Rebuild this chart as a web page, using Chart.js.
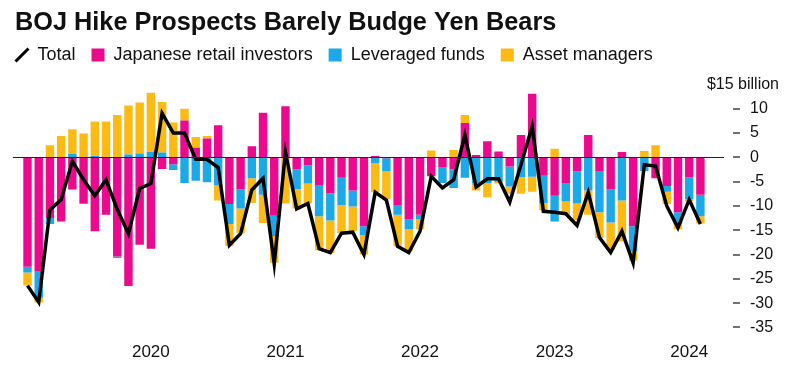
<!DOCTYPE html>
<html>
<head>
<meta charset="utf-8">
<script src="https://cdn.jsdelivr.net/npm/chart.js@4.4.0/dist/chart.umd.min.js"></script>
<style>
  html, body { margin: 0; padding: 0; background: #fff; }
  #wrap { width: 800px; height: 384px; }
</style>
</head>
<body>
<div id="wrap"><canvas id="chart" width="800" height="384"></canvas></div>
<script>
// monthly flows, $ billion (Feb 2019 - Feb 2024)
const months = [
  '2019-02','2019-03','2019-04','2019-05','2019-06','2019-07','2019-08','2019-09','2019-10','2019-11','2019-12',
  '2020-01','2020-02','2020-03','2020-04','2020-05','2020-06','2020-07','2020-08','2020-09','2020-10','2020-11','2020-12',
  '2021-01','2021-02','2021-03','2021-04','2021-05','2021-06','2021-07','2021-08','2021-09','2021-10','2021-11','2021-12',
  '2022-01','2022-02','2022-03','2022-04','2022-05','2022-06','2022-07','2022-08','2022-09','2022-10','2022-11','2022-12',
  '2023-01','2023-02','2023-03','2023-04','2023-05','2023-06','2023-07','2023-08','2023-09','2023-10','2023-11','2023-12',
  '2024-01','2024-02'
];
const retail = [
  -22.5, -23.4, -12.5, -13.2, -6.6, -9.4, -15.2, -11.8, -20.4, -26.5, -18.0, -18.8,
  -2.4, -1.4, 7.6, 2.0, 3.9, 6.6, -9.6, -6.6, 2.3, 9.2, -12.0, 10.5,
  -2.5, -1.6, -5.7, -7.4, -4.2, -6.8, -14.2, 0.3, -0.2, -9.8, -12.8, -11.8,
  -3.9, -2.0, -2.5, 7.1, 0.5, 3.3, 1.2, -1.9, 4.6, 13.1, -3.8, -7.9,
  -5.3, -2.9, 4.6, -2.8, -6.6, 1.1, -14.2, 0, -4.3, -5.9, -11.3, -4.1, -7.7
];
const leveraged = [
  -1.2, -5.5, -1.2, 0, 0.7, -0.2, 0.3, 0, -0.3, 0.6, 0.8, 1.1,
  1.0, -1.2, -5.3, -4.8, -5.1, -5.8, -4.1, -3.9, -4.3, -7.7, -4.2, 0,
  -4.0, -3.8, -6.4, -5.6, -5.6, -3.3, -1.8, -1.2, -2.6, -2.0, -2.0, -1.0,
  0, -3.3, -3.8, -4.2, -5.3, -5.3, -5.0, -4.1, -4.1, -4.0, -5.6, -5.3,
  -3.8, -6.6, -6.8, -8.5, -6.8, -8.9, -5.1, -2.8, 0, -1.2, -2.4, -4.5, -4.4
];
const assetMgrs = [
  -2.7, -1.0, 2.5, 4.4, 5.1, 4.9, 7.1, 7.4, 8.7, 10.1, 10.5, 12.2,
  10.4, 7.2, 2.4, 2.2, 0.5, -3.1, -4.5, -5.1, -5.1, -5.8, -5.5, -9.5,
  -4.0, -4.1, -7.0, -6.7, -5.8, -5.1, -4.0, -6.0, -5.8, -6.5, -4.4, -2.0,
  1.4, 0, 1.5, 1.6, -1.5, -2.9, -0.4, -1.5, -3.4, -3.1, -1.5, 1.8,
  -2.7, -3.4, -5.0, -5.3, -5.6, -8.4, -2.0, 1.3, 2.5, -2.5, -1.1, -0.5, -1.5
];
const total = [
  -26.4, -29.8, -10.8, -8.7, -0.8, -4.6, -7.9, -4.6, -10.7, -15.7, -6.4, -5.4,
  9.1, 5.0, 5.0, -0.4, -0.4, -2.1, -18.1, -15.7, -6.7, -4.3, -21.9, 1.1,
  -10.6, -9.5, -18.8, -19.6, -15.6, -15.4, -20.0, -7.2, -8.8, -18.3, -19.6, -15.2,
  -3.9, -6.3, -4.6, 4.6, -6.1, -4.4, -4.4, -9.2, -1.5, 6.4, -11.1, -11.3,
  -11.6, -14.0, -7.2, -16.5, -19.6, -15.2, -21.7, -1.5, -1.8, -10.0, -14.5, -8.7, -13.7
];
const yTicks = [15, 10, 5, 0, -5, -10, -15, -20, -25, -30, -35];

const PINK = '#EC098D';
const BLUE = '#1CA9E9';
const YELLOW = '#FDBA12';
const FONT = "'Liberation Sans', Arial, sans-serif";
const TEXT = '#111';

Chart.defaults.font.family = FONT;

const isJan = i => months[i] && months[i].endsWith('-01');

// title, zero line, y tick dashes and unit label
const extras = {
  id: 'extras',
  afterDatasetsDraw(chart) {
    const ctx = chart.ctx, y = chart.scales.y.getPixelForValue(0);
    const a = chart.chartArea;
    ctx.save();
    ctx.strokeStyle = '#222';
    ctx.lineWidth = 1;
    ctx.beginPath();
    ctx.moveTo(a.left - 9, Math.round(y) + 0.5);
    ctx.lineTo(a.right + 18, Math.round(y) + 0.5);
    ctx.stroke();
    ctx.restore();
  },
  afterDraw(chart) {
    const ctx = chart.ctx, ys = chart.scales.y;
    ctx.save();
    ctx.fillStyle = TEXT;
    ctx.font = "bold 25.3px " + FONT;
    ctx.textBaseline = 'alphabetic';
    ctx.textAlign = 'left';
    ctx.fillText('BOJ Hike Prospects Barely Budge Yen Bears', 15, 30);

    ctx.strokeStyle = '#444';
    ctx.lineWidth = 1.5;
    yTicks.forEach(v => {
      if (v === 15) return;
      const py = Math.round(ys.getPixelForValue(v));
      ctx.beginPath();
      ctx.moveTo(733, py);
      ctx.lineTo(740, py);
      ctx.stroke();
    });
    ctx.font = "16px " + FONT;
    ctx.textAlign = 'right';
    ctx.textBaseline = 'middle';
    ctx.fillText('$15 billion', 779, ys.getPixelForValue(15));
    ctx.restore();
  }
};

new Chart(document.getElementById('chart'), {
  data: {
    labels: months,
    datasets: [
      { type: 'line', label: 'Total', data: total, borderColor: '#000', borderWidth: 3.5,
        pointRadius: 0, tension: 0, order: 0, stack: 'line', xAxisID: 'x', yAxisID: 'y' },
      { type: 'bar', label: 'Japanese retail investors', data: retail, backgroundColor: PINK,
        order: 1, stack: 'flows', xAxisID: 'x', yAxisID: 'y' },
      { type: 'bar', label: 'Leveraged funds', data: leveraged, backgroundColor: BLUE,
        order: 1, stack: 'flows', xAxisID: 'x', yAxisID: 'y' },
      { type: 'bar', label: 'Asset managers', data: assetMgrs, backgroundColor: YELLOW,
        order: 1, stack: 'flows', xAxisID: 'x', yAxisID: 'y' }
    ]
  },
  options: {
    responsive: false,
    animation: false,
    devicePixelRatio: 1,
    datasets: { bar: { barPercentage: 0.75, categoryPercentage: 1, borderWidth: 0 } },
    layout: { padding: { left: -0.5, right: 0, top: 30, bottom: 13.2 } },
    plugins: {
      title: { display: false },
      tooltip: { enabled: false },
      legend: {
        position: 'top',
        align: 'start',
        labels: {
          usePointStyle: true,
          boxWidth: 13,
          boxHeight: 13,
          padding: 16,
          color: TEXT,
          font: { size: 18 },
          generateLabels: () => [
            { text: 'Total', pointStyle: 'line', rotation: -45, strokeStyle: '#000', fillStyle: '#000', lineWidth: 3, fontColor: TEXT, datasetIndex: 0 },
            { text: 'Japanese retail investors', pointStyle: 'rect', fillStyle: PINK, strokeStyle: PINK, lineWidth: 0, fontColor: TEXT, datasetIndex: 1 },
            { text: 'Leveraged funds', pointStyle: 'rect', fillStyle: BLUE, strokeStyle: BLUE, lineWidth: 0, fontColor: TEXT, datasetIndex: 2 },
            { text: 'Asset managers', pointStyle: 'rect', fillStyle: YELLOW, strokeStyle: YELLOW, lineWidth: 0, fontColor: TEXT, datasetIndex: 3 }
          ]
        }
      }
    },
    scales: {
      x: {
        type: 'category',
        stacked: true,
        offset: true,
        border: { display: false },
        grid: {
          display: true, drawOnChartArea: false, drawTicks: true, offset: false,
          tickLength: 7, tickWidth: 1,
          tickColor: c => isJan(c.index) ? '#333' : 'rgba(0,0,0,0)'
        },
        ticks: {
          autoSkip: false, maxRotation: 0, minRotation: 0, padding: 8,
          color: TEXT, font: { size: 17 },
          callback: (v, i) => isJan(i) ? months[i].slice(0, 4) : null
        }
      },
      y: {
        type: 'linear',
        position: 'right',
        stacked: true,
        min: -35, max: 15,
        afterFit: s => { s.width = 94; },
        border: { display: false },
        grid: { display: false, drawTicks: false },
        ticks: {
          stepSize: 5, padding: 44, color: TEXT, font: { size: 16 },
          callback: v => v === 15 ? '' : v
        }
      },
      padLeft: {
        type: 'linear', axis: 'y', position: 'left', display: true,
        afterFit: s => { s.width = 22.4; },
        border: { display: false }, grid: { display: false }, ticks: { display: false }
      },
      padTop: {
        type: 'linear', axis: 'x', position: 'top', display: true,
        afterFit: s => { s.height = 10.5; },
        border: { display: false }, grid: { display: false }, ticks: { display: false }
      }
    }
  },
  plugins: [extras]
});
</script>
</body>
</html>
